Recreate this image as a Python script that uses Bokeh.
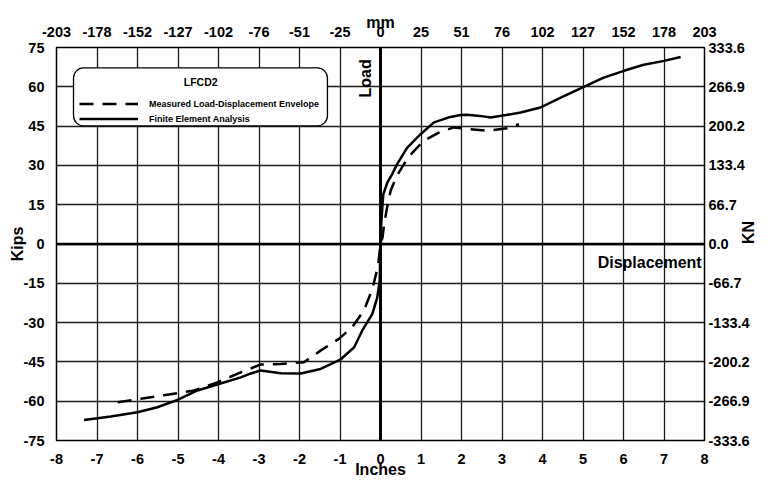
import math
from bokeh.plotting import figure
from bokeh.models import (LinearAxis, FixedTicker, Span, Label, BoxAnnotation,
                          Legend, LegendItem, Range1d)
from bokeh.embed import file_html
from bokeh.resources import INLINE

# ---------------- data ----------------
inch_ticks = [-8, -7, -6, -5, -4, -3, -2, -1, 0, 1, 2, 3, 4, 5, 6, 7, 8]
inch_labels = ["-8", "-7", "-6", "-5", "-4", "-3", "-2", "-1", "0", "1", "2", "3", "4", "5", "6", "7", "8"]
mm_labels = ["-203", "-178", "-152", "-127", "-102", "-76", "-51", "-25", "0",
             "25", "51", "76", "102", "127", "152", "178", "203"]
kip_ticks = [-75, -60, -45, -30, -15, 0, 15, 30, 45, 60, 75]
kip_labels = ["-75", "-60", "-45", "-30", "-15", "0", "15", "30", "45", "60", "75"]
kn_labels = ["-333.6", "-266.9", "-200.2", "-133.4", "-66.7", "0.0",
             "66.7", "133.4", "200.2", "266.9", "333.6"]

# Finite Element Analysis
fe_x = [-7.32, -6.66, -6.0, -5.51, -5.01, -4.52, -4.03, -3.45, -3.2, -2.96, -2.46,
        -1.97, -1.48, -0.98, -0.65, -0.45, -0.2, -0.08, -0.02, 0.0,
        0.02, 0.05, 0.07, 0.17, 0.29, 0.41, 0.66, 0.99, 1.32, 1.73, 1.98, 2.14,
        2.45, 2.72, 3.1, 3.46, 3.95, 4.45, 5.02, 5.51, 6.01, 6.5, 7.0, 7.41]
fe_y = [-67.2, -65.8, -64.2, -62.3, -59.5, -55.9, -53.6, -50.9, -49.4, -48.3, -49.3,
        -49.4, -47.7, -44.0, -39.4, -33.0, -26.7, -20.4, -14.0, 0.0,
        8.0, 15.2, 19.0, 23.5, 26.7, 30.5, 36.8, 41.9, 46.4, 48.5, 49.2, 49.3,
        48.9, 48.3, 49.2, 50.2, 52.1, 55.9, 60.0, 63.5, 66.1, 68.4, 69.9, 71.4]

# Measured Load-Displacement Envelope
meas_x = [-6.49, -5.92, -5.26, -4.6, -4.03, -3.45, -2.96, -2.46, -1.89, -1.48,
          -1.03, -0.7, -0.41, -0.2, -0.06, -0.02, 0.0, 0.05, 0.09, 0.17, 0.25,
          0.4, 0.58, 0.79, 1.07, 1.44, 1.81, 2.22, 2.64, 3.13, 3.42]
meas_y = [-60.4, -59.1, -57.5, -55.9, -52.8, -49.0, -46.0, -45.8, -45.1, -40.7,
          -36.2, -31.8, -25.4, -17.2, -8.3, -2.6, 0.0, 2.5, 7.6, 14.6, 20.3,
          26.0, 30.5, 34.9, 39.4, 42.5, 44.5, 43.8, 43.2, 44.2, 45.7]

FONT = "Liberation Sans"
TICK_FS = "14.5px"
LAB_FS = "16px"

p = figure(width=770, height=483, output_backend="svg", toolbar_location=None,
           x_range=Range1d(-8, 8), y_range=Range1d(-75, 75),
           min_border_left=56, min_border_right=66, min_border_top=47,
           min_border_bottom=43, background_fill_color="white",
           border_fill_color="white")

p.outline_line_color = "black"
p.outline_line_width = 1.5

def style_axis(ax, ticks, labels, label_text, tick_standoff, label_standoff):
    ax.ticker = FixedTicker(ticks=ticks)
    ax.major_label_overrides = {t: s for t, s in zip(ticks, labels)}
    ax.axis_line_color = None
    ax.major_tick_line_color = None
    ax.minor_tick_line_color = None
    ax.major_tick_out = 0
    ax.major_tick_in = 0
    ax.major_label_standoff = tick_standoff
    ax.major_label_text_font = FONT
    ax.major_label_text_font_size = TICK_FS
    ax.major_label_text_font_style = "bold"
    ax.major_label_text_color = "black"
    if label_text:
        ax.axis_label = label_text
        ax.axis_label_standoff = label_standoff
        ax.axis_label_text_font = FONT
        ax.axis_label_text_font_size = LAB_FS
        ax.axis_label_text_font_style = "bold"
        ax.axis_label_text_color = "black"

style_axis(p.xaxis[0], inch_ticks, inch_labels, "Inches", 13, -6)
style_axis(p.yaxis[0], kip_ticks, kip_labels, "Kips", 12, -5)

top_axis = LinearAxis()
style_axis(top_axis, inch_ticks, mm_labels, "mm", 11, -7)
p.add_layout(top_axis, "above")

right_axis = LinearAxis()
style_axis(right_axis, kip_ticks, kn_labels, "KN", 4, -4)
kn_done = False
try:
    right_axis.axis_label_orientation = math.pi / 2
    kn_done = True
except Exception:
    right_axis.axis_label = None
p.add_layout(right_axis, "right")

for g, t in ((p.xgrid[0], inch_ticks), (p.ygrid[0], kip_ticks)):
    g.ticker = FixedTicker(ticks=t)
    g.grid_line_color = "#1a1a1a"
    g.grid_line_width = 1.3
    g.grid_line_alpha = 1.0

p.add_layout(Span(location=0, dimension="height", line_color="black", line_width=3))
p.add_layout(Span(location=0, dimension="width", line_color="black", line_width=2.5))

r_meas = p.line(meas_x, meas_y, line_color="black", line_width=2.5, line_dash="14 9")
r_fe = p.line(fe_x, fe_y, line_color="black", line_width=2.5)

# legend box
box = BoxAnnotation(left=-7.58, right=-1.31, top=67.2, bottom=45.1,
                    fill_color="white", fill_alpha=1.0, line_color="black",
                    line_width=1.3, line_alpha=1.0)
try:
    box.border_radius = 10
except Exception:
    pass
p.add_layout(box)

p.add_layout(Label(x=-4.44, y=61.9, text="LFCD2", text_align="center",
                   text_baseline="middle", text_font=FONT, text_font_size="10.5px",
                   text_font_style="bold", text_color="black"))

legend = Legend(items=[LegendItem(label="Measured Load-Displacement Envelope", renderers=[r_meas]),
                       LegendItem(label="Finite Element Analysis", renderers=[r_fe])],
                location=(23, 314), glyph_width=59, glyph_height=15, label_height=15,
                label_standoff=11, spacing=0, padding=0, margin=0,
                border_line_color=None, background_fill_alpha=0.0,
                label_text_font=FONT, label_text_font_size="9px",
                label_text_font_style="bold", label_text_color="black")
p.add_layout(legend)

p.add_layout(Label(x=-0.37, y=63.2, text="Load", angle=1.5708, text_align="center",
                   text_baseline="alphabetic", text_font=FONT, text_font_size=LAB_FS,
                   text_font_style="bold", text_color="black"))
p.add_layout(Label(x=7.93, y=-3.9, text="Displacement", text_align="right",
                   text_baseline="top", text_font=FONT, text_font_size=LAB_FS,
                   text_font_style="bold", text_color="black"))
if not kn_done:
    p.add_layout(Label(x=764, y=240, x_units="screen", y_units="screen", text="KN",
                       angle=1.5708, text_align="center", text_baseline="alphabetic",
                       text_font=FONT, text_font_size=LAB_FS, text_font_style="bold",
                       text_color="black"), "right")

open("out.html", "w").write(file_html(p, INLINE))
